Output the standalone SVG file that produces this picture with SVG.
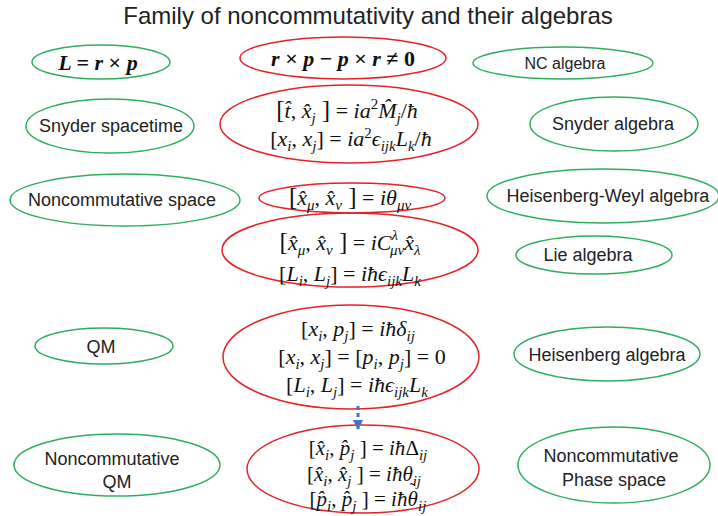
<svg xmlns="http://www.w3.org/2000/svg" width="718" height="516" viewBox="0 0 718 516">
<defs>
<style>
.bg{fill:#fff}
.title{font-family:"Liberation Sans",Arial,sans-serif;font-size:24px;fill:#222;text-anchor:middle}
.lbl{font-family:"Liberation Sans",Arial,sans-serif;font-size:18px;fill:#222;text-anchor:middle}
.g{fill:none;stroke:#2fae5f;stroke-width:1.5}
.r{fill:none;stroke:#e3222b;stroke-width:1.5}
.m{font-family:"Liberation Serif","DejaVu Serif",serif;font-size:22px;font-style:italic;fill:#111;text-anchor:middle}
.m2{font-size:21px}
.b{font-weight:bold}
.u{font-style:normal}
.s{font-size:15px}
.k{font-size:25px;font-style:normal}
.tl{font-size:16px;font-style:normal}
.arrow{stroke:#4472c4;stroke-width:3;stroke-dasharray:4 3;fill:none}
</style>
<marker id="ah" viewBox="0 0 10 10" refX="9" refY="5" markerWidth="3.5" markerHeight="3.5" orient="auto" markerUnits="strokeWidth">
<path d="M0,0 L10,5 L0,10 z" fill="#4472c4"/>
</marker>
</defs>
<rect class="bg" width="718" height="516"/>
<text class="title" x="368" y="24">Family of noncommutativity and their algebras</text>

<g id="n-L"><ellipse class="g" cx="101" cy="62" rx="69" ry="17"/>
<text class="m b" x="98" y="70">L <tspan class="u">=</tspan> r <tspan class="u">×</tspan> p</text></g>

<g id="n-noncomm"><ellipse class="r" cx="343" cy="58" rx="103" ry="21"/>
<text class="m b" x="343" y="66">r <tspan class="u">×</tspan> p <tspan class="u">−</tspan> p <tspan class="u">×</tspan> r <tspan class="u">≠ 0</tspan></text></g>

<g id="n-ncalg"><ellipse class="g" cx="563" cy="63" rx="90" ry="16"/>
<text class="lbl" x="565" y="69" style="font-size:16px">NC algebra</text></g>

<g id="n-snyder-st"><ellipse class="g" cx="110" cy="126" rx="84" ry="27"/>
<text class="lbl" x="111" y="132">Snyder spacetime</text></g>

<g id="n-snyder-eq"><ellipse class="r" cx="349" cy="124" rx="129" ry="39"/>
<text class="m" x="347" y="118"><tspan class="k">[</tspan>t̂<tspan class="u">, </tspan>x̂<tspan class="s" dy="5">j</tspan><tspan class="k" dy="-5"> ]</tspan><tspan class="u"> = </tspan>ia<tspan class="s u" dy="-9">2</tspan><tspan dy="9">M̂</tspan><tspan class="s" dy="5">j</tspan><tspan class="u" dy="-5">/</tspan>ħ</text>
<text class="m" x="351" y="146"><tspan class="u">[</tspan>x<tspan class="s" dy="5">i</tspan><tspan class="u" dy="-5">, </tspan>x<tspan class="s" dy="5">j</tspan><tspan class="u" dy="-5">] = </tspan>ia<tspan class="s u" dy="-8">2</tspan><tspan dy="8">ϵ</tspan><tspan class="s" dy="5">ijk</tspan><tspan dy="-5">L</tspan><tspan class="s" dy="5">k</tspan><tspan class="u" dy="-5">/</tspan>ħ</text></g>

<g id="n-snyder-alg"><ellipse class="g" cx="614" cy="124" rx="84" ry="27"/>
<text class="lbl" x="613" y="130">Snyder algebra</text></g>

<g id="n-ncspace"><ellipse class="g" cx="125" cy="200" rx="115" ry="26"/>
<text class="lbl" x="122" y="206">Noncommutative space</text></g>

<g id="n-ncspace-eq"><ellipse class="r" cx="352" cy="198" rx="93" ry="15"/>
<text class="m" x="350" y="205"><tspan class="k">[</tspan>x̂<tspan class="s" dy="5">μ</tspan><tspan class="u" dy="-5">, </tspan>x̂<tspan class="s" dy="5">ν</tspan><tspan class="k" dy="-5"> ]</tspan><tspan class="u"> = </tspan>iθ<tspan class="s" dy="5">μν</tspan></text></g>

<g id="n-hw"><ellipse class="g" cx="603" cy="196" rx="116" ry="27"/>
<text class="lbl" x="608" y="202">Heisenberg-Weyl algebra</text></g>

<g id="n-lie-eq"><ellipse class="r" cx="350" cy="250" rx="128" ry="37"/>
<text class="m" x="350" y="250"><tspan class="k">[</tspan>x̂<tspan class="s" dy="5">μ</tspan><tspan class="u" dy="-5">, </tspan>x̂<tspan class="s" dy="5">ν</tspan><tspan class="k" dy="-5"> ]</tspan><tspan class="u"> = </tspan>iC<tspan class="s" dy="-10">λ</tspan><tspan class="s" dx="-8" dy="15">μν</tspan><tspan dy="-5">x̂</tspan><tspan class="s" dy="5">λ</tspan></text>
<text class="m" x="350" y="281"><tspan class="u">[</tspan>L<tspan class="s" dy="5">i</tspan><tspan class="u" dy="-5">, </tspan>L<tspan class="s" dy="5">j</tspan><tspan class="u" dy="-5">] = </tspan>iħϵ<tspan class="s" dy="5">ijk</tspan><tspan dy="-5">L</tspan><tspan class="s" dy="5">k</tspan></text></g>

<g id="n-lie"><ellipse class="g" cx="594" cy="255" rx="78" ry="19"/>
<text class="lbl" x="588" y="261">Lie algebra</text></g>

<g id="n-qm"><ellipse class="g" cx="104" cy="346" rx="69" ry="18"/>
<text class="lbl" x="101" y="353">QM</text></g>

<g id="n-qm-eq"><ellipse class="r" cx="351" cy="357" rx="128" ry="52"/>
<text class="m" x="358" y="336"><tspan class="u">[</tspan>x<tspan class="s" dy="5">i</tspan><tspan class="u" dy="-5">, </tspan>p<tspan class="s" dy="5">j</tspan><tspan class="u" dy="-5">] = </tspan>iħδ<tspan class="s" dy="5">ij</tspan></text>
<text class="m" x="362" y="364"><tspan class="u">[</tspan>x<tspan class="s" dy="5">i</tspan><tspan class="u" dy="-5">, </tspan>x<tspan class="s" dy="5">j</tspan><tspan class="u" dy="-5">] = [</tspan>p<tspan class="s" dy="5">i</tspan><tspan class="u" dy="-5">, </tspan>p<tspan class="s" dy="5">j</tspan><tspan class="u" dy="-5">] = 0</tspan></text>
<text class="m" x="357" y="392"><tspan class="u">[</tspan>L<tspan class="s" dy="5">i</tspan><tspan class="u" dy="-5">, </tspan>L<tspan class="s" dy="5">j</tspan><tspan class="u" dy="-5">] = </tspan>iħϵ<tspan class="s" dy="5">ijk</tspan><tspan dy="-5">L</tspan><tspan class="s" dy="5">k</tspan></text></g>

<g id="n-heis"><ellipse class="g" cx="607" cy="354" rx="93" ry="27"/>
<text class="lbl" x="607" y="361">Heisenberg algebra</text></g>

<g id="n-ncqm"><ellipse class="g" cx="117" cy="465" rx="103" ry="31"/>
<text class="lbl" x="112" y="465">Noncommutative</text>
<text class="lbl" x="117" y="488">QM</text></g>

<g id="n-ncqm-eq"><ellipse class="r" cx="363" cy="469" rx="116" ry="44"/>
<text class="m m2" x="368" y="455"><tspan class="u">[</tspan>x̂<tspan class="s" dy="5">i</tspan><tspan class="u" dy="-5">, </tspan>p̂<tspan class="s" dy="5">j</tspan><tspan class="u" dy="-5"> ] = </tspan>iħ<tspan class="u">Δ</tspan><tspan class="s" dy="5">ij</tspan></text>
<text class="m m2" x="364" y="481"><tspan class="u">[</tspan>x̂<tspan class="s" dy="5">i</tspan><tspan class="u" dy="-5">, </tspan>x̂<tspan class="s" dy="5">j</tspan><tspan class="u" dy="-5"> ] = </tspan>iħθ<tspan class="s" dy="5">ij</tspan></text>
<text class="m m2" x="368" y="506"><tspan class="u">[</tspan>p̂<tspan class="s" dy="5">i</tspan><tspan class="u" dy="-5">, </tspan>p̂<tspan class="s" dy="5">j</tspan><tspan class="u" dy="-5"> ] = </tspan>iħθ<tspan class="tl" dx="-8" dy="-12">˜</tspan><tspan class="s" dx="3" dy="17">ij</tspan></text></g>

<g id="n-ncps"><ellipse class="g" cx="614" cy="465" rx="96" ry="38"/>
<text class="lbl" x="611" y="462">Noncommutative</text>
<text class="lbl" x="614" y="486">Phase space</text></g>

<g id="connectors">
<line class="arrow" x1="358" y1="406" x2="358" y2="429" marker-end="url(#ah)"/>
</g>
</svg>
